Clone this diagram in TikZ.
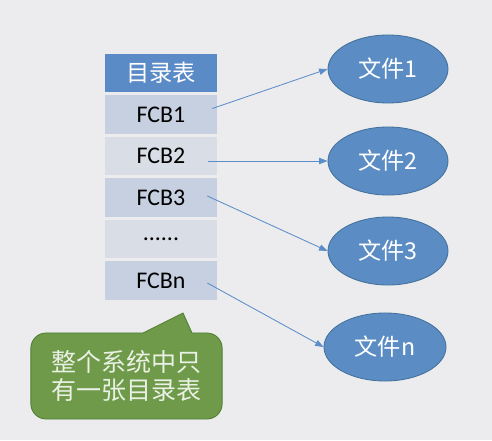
\documentclass[tikz,border=0pt]{standalone}
\usepackage{fontspec}
\setmainfont{Carlito}
\newfontfamily\cjk{Noto Sans CJK SC}
\usetikzlibrary{positioning,shapes.geometric,arrows.meta}
\definecolor{bgcol}{HTML}{ECECEE}
\definecolor{headblue}{HTML}{5B8BC6}
\definecolor{rowdark}{HTML}{C6D0E0}
\definecolor{rowlight}{HTML}{D9DDE6}
\definecolor{fileblue}{HTML}{5B8DC4}
\definecolor{fileedge}{HTML}{41719C}
\definecolor{linkblue}{HTML}{5B8DC8}
\definecolor{notegreen}{HTML}{6E9A4A}
\definecolor{noteedge}{HTML}{507E32}
\definecolor{notetext}{HTML}{EAF0E4}
\tikzset{
	row/.style={rectangle, minimum width=2.8cm, minimum height=0.97cm,
		inner sep=0pt, font=\fontsize{17}{20}\selectfont},
	dark/.style={row, fill=rowdark},
	light/.style={row, fill=rowlight},
	file/.style={ellipse, fill=fileblue, draw=fileedge, line width=0.6pt,
		minimum width=3cm, minimum height=1.7cm, inner sep=0pt,
		text=white, font=\cjk\fontsize{16.5}{19}\selectfont},
	link/.style={draw=linkblue, line width=0.6pt,
		-{Triangle[length=6pt,width=4.5pt]}}
}
\begin{document}
\begin{tikzpicture}[x=0.025cm, y=-0.025cm]
		\fill[bgcol] (0,0) rectangle (492,440);
		\node[row, fill=headblue, text=white, font=\cjk\fontsize{16.5}{19}\selectfont]
			(head) at (161,73) {目录表};
		\node[dark] (r1) at (161,114.5) {FCB1};
		\node[light] (r2) at (161,156) {FCB2};
		\node[dark] (r3) at (161,197.5) {FCB3};
		\node[light] (rd) at (161,239) {......};
		\node[dark] (rn) at (161,280.5) {FCBn};
		\node[file] (e1) at (388,69) {文件1};
		\node[file] (e2) at (388,161) {文件2};
		\node[file] (e3) at (388,251) {文件3};
		\node[file, minimum width=3.05cm] (en) at (385,347) {文件n};
		\draw[link] ([shift={(-5,-6)}]r1.east) -- (e1.west);
		\draw[link] ([shift={(-9,5)}]r2.east) -- (e2.west);
		\draw[link] ([shift={(-10,-1.5)}]r3.east) -- (e3.west);
		\draw[link] ([shift={(-10,2.5)}]rn.east) -- (en.west);
		\node[rectangle, rounded corners=0.38cm, fill=notegreen, draw=noteedge,
			line width=0.6pt, minimum width=4.78cm, minimum height=2.15cm]
			(note) at (126.5,376) {};
		\fill[notegreen] (143,334.5) -- (143,333) -- (183,313) -- (192,333) -- (192,334.5) -- cycle;
		\draw[noteedge, line width=0.6pt] (143,333) -- (183,313) -- (192,333);
		\node[align=left, text=notetext, font=\cjk\fontsize{17.8}{20}\selectfont]
			(notetxt) at (note.center) {整个系统中只\\有一张目录表};
	\end{tikzpicture}
\end{document}
